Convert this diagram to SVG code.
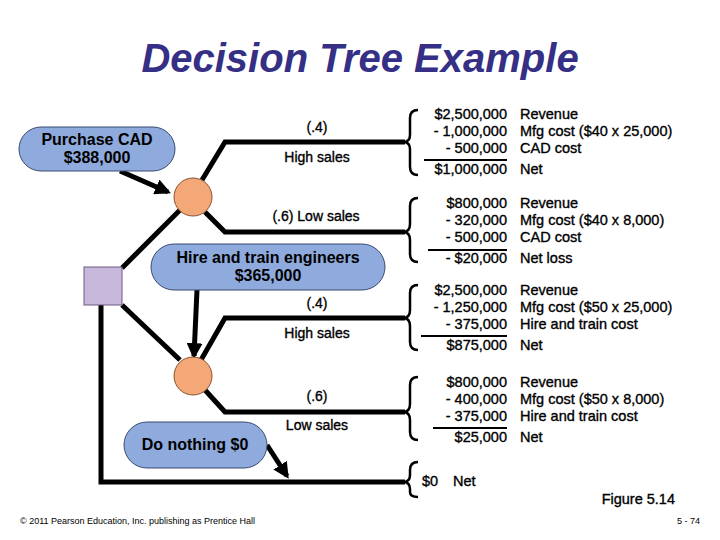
<svg xmlns="http://www.w3.org/2000/svg" width="720" height="540" viewBox="0 0 720 540">
<defs>
<style>
text{font-family:"Liberation Sans",Arial,sans-serif;fill:#000}
.pill{fill:#8faadc;stroke:#3a4a70;stroke-width:1}
.lbl{font-size:16px;font-weight:bold;text-anchor:middle}
.br{font-size:14px;text-anchor:middle;stroke:#000;stroke-width:0.35}
.n{font-size:14.5px;text-anchor:end;stroke:#000;stroke-width:0.35}
.d{font-size:14.5px;stroke:#000;stroke-width:0.35}
.edge{fill:none;stroke:#000;stroke-width:5;stroke-linejoin:miter}
.brace{fill:none;stroke:#000;stroke-width:2.5}
.chance{fill:#f4a777;stroke:#8a5030;stroke-width:1}
</style>
<marker id="ah" viewBox="0 0 10 10" refX="8" refY="5" markerWidth="3.2" markerHeight="3.2" orient="auto"><path d="M0,0L10,5L0,10z" fill="#000"/></marker>
</defs>
<rect width="720" height="540" fill="#fff"/>
<text x="360" y="72" font-size="40" font-weight="bold" font-style="italic" text-anchor="middle" style="fill:#352f85">Decision Tree Example</text>
<g id="connectors">
<path class="edge" d="M202,180L225,142H405"/>
<path class="edge" d="M205,212L225,232H405"/>
<path class="edge" d="M122,268L180,210"/>
<path class="edge" d="M122,305L180,360"/>
<path class="edge" d="M201,360L225,318H405"/>
<path class="edge" d="M205,390L225,412H405"/>
<path class="edge" d="M101,305V482H405"/>
<path class="edge" stroke-width="4" marker-end="url(#ah)" d="M120,171L168,192"/>
<path class="edge" stroke-width="4" marker-end="url(#ah)" d="M197,290L194,356"/>
<path class="edge" stroke-width="4" marker-end="url(#ah)" d="M267,445L287,476"/>
<text class="br" x="317" y="132">(.4)</text>
<text class="br" x="317" y="162">High sales</text>
<text class="br" x="316" y="221">(.6) Low sales</text>
<text class="br" x="317" y="308">(.4)</text>
<text class="br" x="317" y="338">High sales</text>
<text class="br" x="317" y="401">(.6)</text>
<text class="br" x="317" y="430">Low sales</text>
</g>
<g id="decision"><rect x="84" y="267" width="38" height="38" fill="#c8b8dc" stroke="#6a5a80"/></g>
<g id="chance1"><circle class="chance" cx="193" cy="197" r="19"/></g>
<g id="chance2"><circle class="chance" cx="193" cy="376" r="19"/></g>
<g id="purchase"><rect class="pill" x="19" y="127" width="156" height="44" rx="22"/><text class="lbl" x="97" y="145">Purchase CAD</text><text class="lbl" x="97" y="163">$388,000</text></g>
<g id="hire"><rect class="pill" x="151" y="244" width="234" height="46" rx="23"/><text class="lbl" x="268" y="263">Hire and train engineers</text><text class="lbl" x="268" y="281">$365,000</text></g>
<g id="nothing"><rect class="pill" x="124" y="422" width="143" height="46" rx="23"/><text class="lbl" x="195" y="450">Do nothing $0</text></g>
<g id="outcomes">
<path class="brace" d="M418,110Q410,110 410,118V135Q410,142 403,142Q410,142 410,149V167Q410,175 418,175"/>
<path class="brace" d="M418,198Q410,198 410,206V224Q410,232 403,232Q410,232 410,240V254Q410,262 418,262"/>
<path class="brace" d="M418,285Q410,285 410,293V310Q410,318 403,318Q410,318 410,326V342Q410,350 418,350"/>
<path class="brace" d="M418,377Q410,377 410,385V404Q410,412 403,412Q410,412 410,420V432Q410,440 418,440"/>
<path class="brace" d="M418,462Q410,462 410,470V475Q410,482 403,482Q410,482 410,489V492Q410,497 418,497"/>
<g stroke="#000" stroke-width="2"><line x1="424" y1="160" x2="507" y2="160"/><line x1="428" y1="250" x2="507" y2="250"/><line x1="421" y1="336" x2="507" y2="336"/><line x1="433" y1="428" x2="507" y2="428"/></g>
<text class="n" x="507" y="119">$2,500,000</text><text class="d" x="520" y="119">Revenue</text>
<text class="n" x="507" y="136">- 1,000,000</text><text class="d" x="520" y="136">Mfg cost ($40 x 25,000)</text>
<text class="n" x="507" y="153">- 500,000</text><text class="d" x="520" y="153">CAD cost</text>
<text class="n" x="507" y="174">$1,000,000</text><text class="d" x="520" y="174">Net</text>
<text class="n" x="507" y="208">$800,000</text><text class="d" x="520" y="208">Revenue</text>
<text class="n" x="507" y="225">- 320,000</text><text class="d" x="520" y="225">Mfg cost ($40 x 8,000)</text>
<text class="n" x="507" y="242">- 500,000</text><text class="d" x="520" y="242">CAD cost</text>
<text class="n" x="507" y="263">- $20,000</text><text class="d" x="520" y="263">Net loss</text>
<text class="n" x="507" y="295">$2,500,000</text><text class="d" x="520" y="295">Revenue</text>
<text class="n" x="507" y="312">- 1,250,000</text><text class="d" x="520" y="312">Mfg cost ($50 x 25,000)</text>
<text class="n" x="507" y="329">- 375,000</text><text class="d" x="520" y="329">Hire and train cost</text>
<text class="n" x="507" y="350">$875,000</text><text class="d" x="520" y="350">Net</text>
<text class="n" x="507" y="387">$800,000</text><text class="d" x="520" y="387">Revenue</text>
<text class="n" x="507" y="404">- 400,000</text><text class="d" x="520" y="404">Mfg cost ($50 x 8,000)</text>
<text class="n" x="507" y="421">- 375,000</text><text class="d" x="520" y="421">Hire and train cost</text>
<text class="n" x="507" y="442">$25,000</text><text class="d" x="520" y="442">Net</text>
<text class="d" x="422" y="486">$0</text><text class="d" x="453" y="486">Net</text>
</g>
<text x="675" y="504" font-size="14.5" text-anchor="end" stroke="#000" stroke-width="0.35">Figure 5.14</text>
<text x="20" y="524" font-size="9">© 2011 Pearson Education, Inc. publishing as Prentice Hall</text>
<text x="700" y="524" font-size="9" text-anchor="end">5 - 74</text>
</svg>
